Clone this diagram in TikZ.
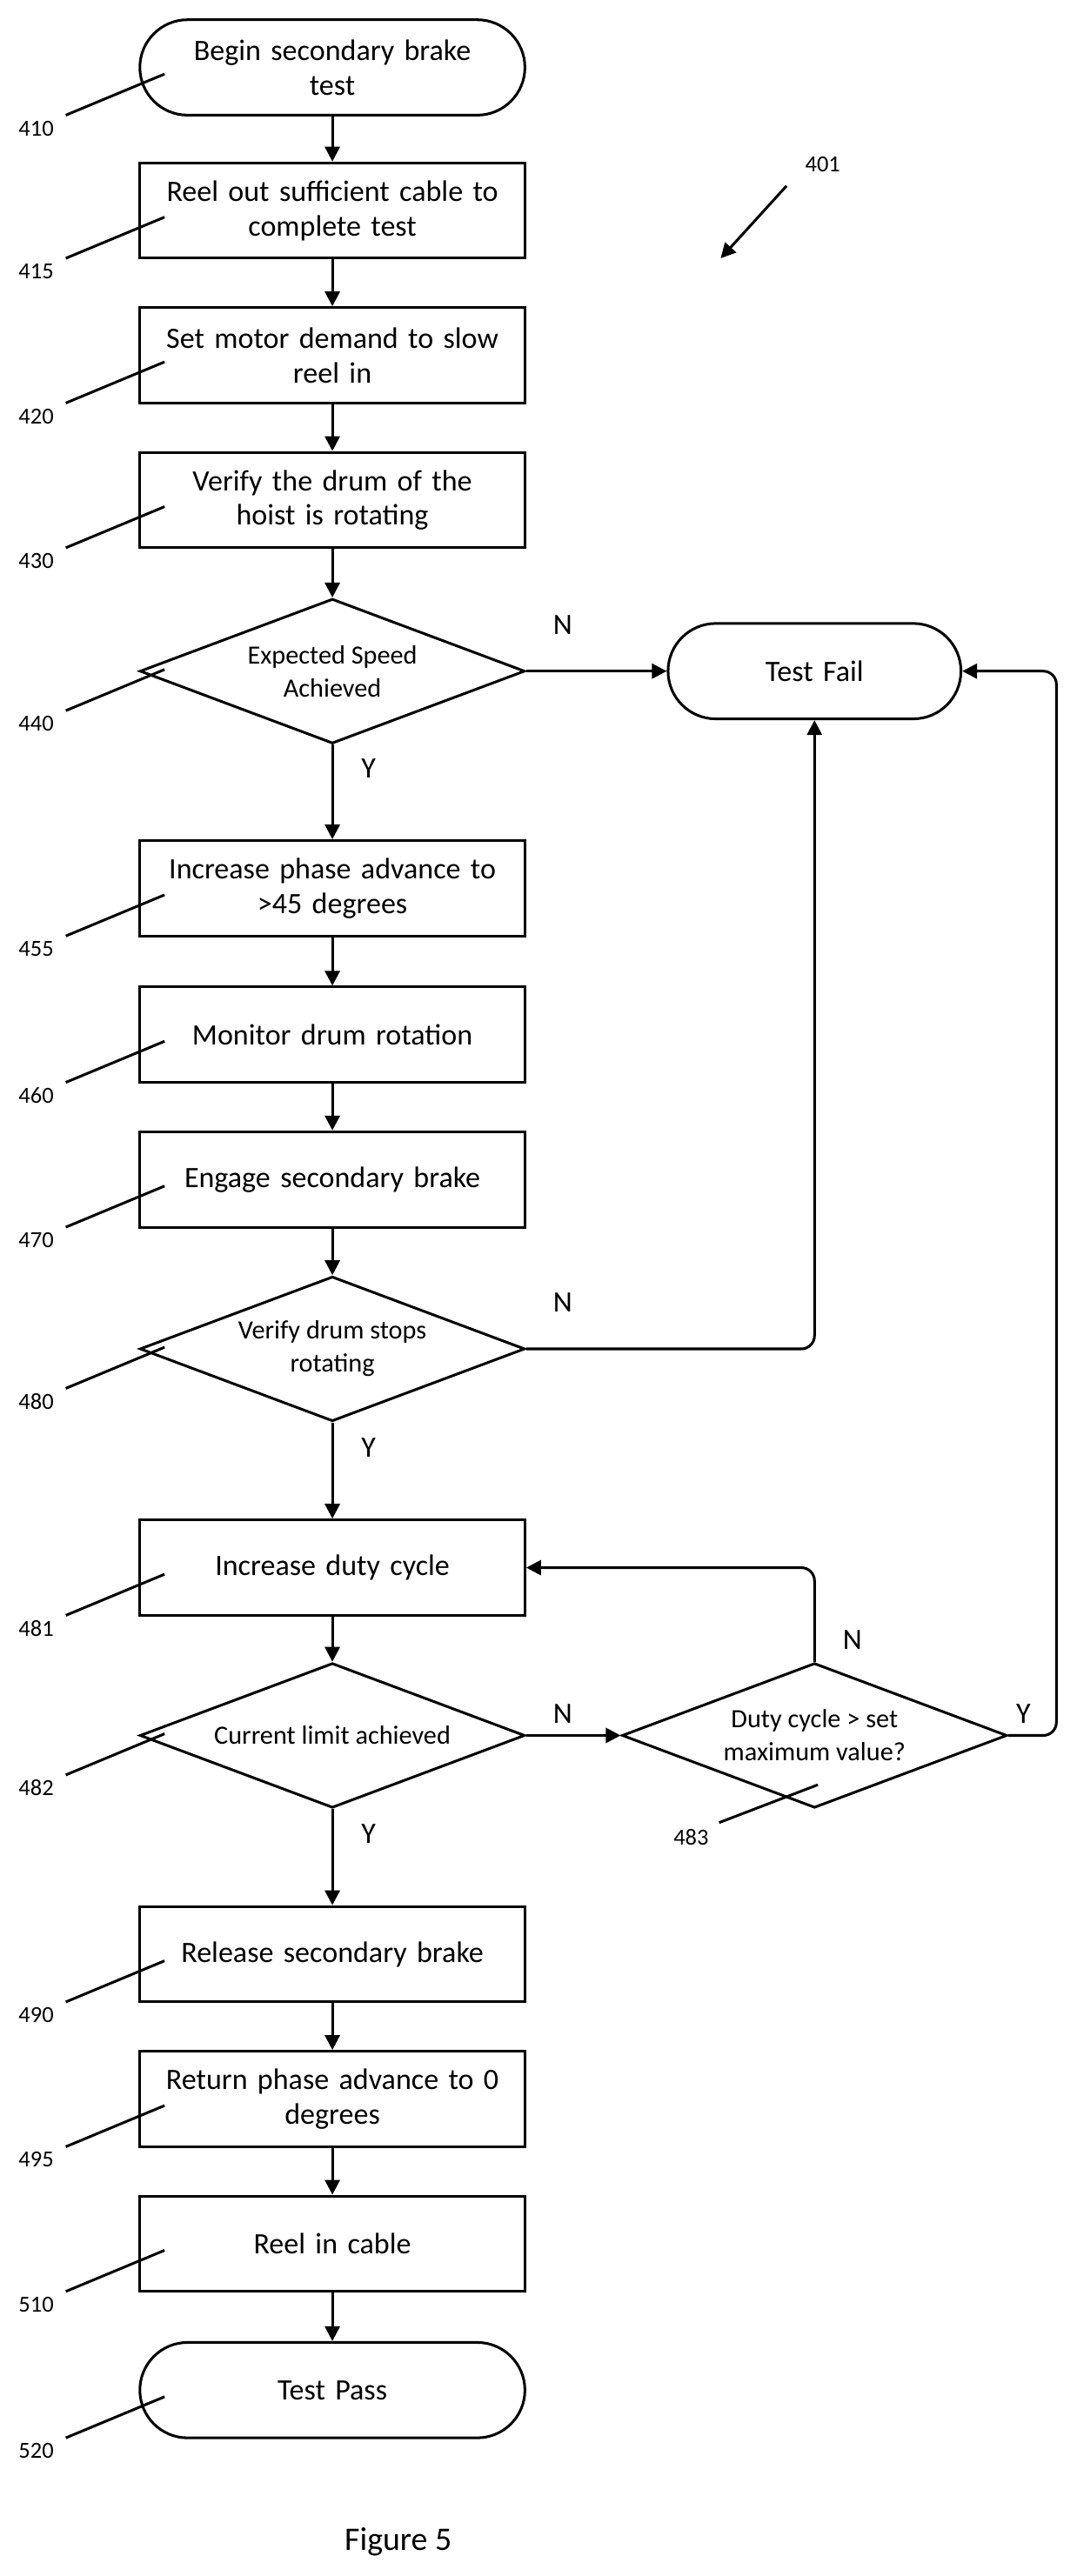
\documentclass[tikz,border=0pt]{standalone}
\usepackage{fontspec}
\setmainfont{Carlito}
\usetikzlibrary{shapes.geometric,arrows.meta}
\begin{document}
\begin{tikzpicture}[x=1pt,y=-1pt,
 box/.style={draw,line width=1.6pt,minimum width=234pt,minimum height=58pt,align=center,font=\fontsize{18}{21}\selectfont,text width=225pt},
 term/.style={box,rounded corners=29pt},
 dia/.style={draw,line width=1.6pt,diamond,minimum width=234pt,minimum height=88pt,aspect=2.66,inner sep=0pt,align=center,font=\fontsize{16}{20}\selectfont},
 arr/.style={line width=1.6pt,-{Triangle[length=9pt,width=9pt]},rounded corners=8pt},
 lead/.style={line width=1.6pt},
 lab/.style={font=\fontsize{14}{16}\selectfont},
 yn/.style={font=\fontsize{18}{20}\selectfont}]
\useasboundingbox (0,0) rectangle (654,1566);
\node[term] (b410) at (202,41) {Begin secondary brake\\test};
\node[box] (b415) at (202,128) {Reel out sufficient cable to\\complete test};
\node[box] (b420) at (202,216) {Set motor demand to slow\\reel in};
\node[box] (b430) at (202,304) {Verify the drum of the\\hoist is rotating};
\node[dia] (d440) at (202,408) {Expected Speed\\Achieved};
\node[term,minimum width=178pt,text width=170pt] (fail) at (495,408) {Test Fail};
\node[box] (b455) at (202,540) {Increase phase advance to\\>45 degrees};
\node[box] (b460) at (202,629) {Monitor drum rotation};
\node[box] (b470) at (202,717) {Engage secondary brake};
\node[dia] (d480) at (202,820) {Verify drum stops\\rotating};
\node[box] (b481) at (202,953) {Increase duty cycle};
\node[dia] (d482) at (202,1055) {Current limit achieved};
\node[dia] (d483) at (495,1055) {Duty cycle > set\\maximum value?};
\node[box] (b490) at (202,1188) {Release secondary brake};
\node[box] (b495) at (202,1276) {Return phase advance to 0\\degrees};
\node[box] (b510) at (202,1364) {Reel in cable};
\node[term] (b520) at (202,1453) {Test Pass};
\node[font=\fontsize{20}{22}\selectfont] (fig) at (242,1545) {Figure 5};

\draw[arr] (b410) -- (b415);
\draw[arr] (b415) -- (b420);
\draw[arr] (b420) -- (b430);
\draw[arr] (b430) -- (d440);
\draw[arr] (d440) -- (fail);
\draw[arr] (d440) -- (b455);
\draw[arr] (b455) -- (b460);
\draw[arr] (b460) -- (b470);
\draw[arr] (b470) -- (d480);
\draw[arr] (d480.east) -| (fail.south);
\draw[arr] (d480) -- (b481);
\draw[arr] (b481) -- (d482);
\draw[arr] (d482) -- (d483);
\draw[arr] (d483.north) |- (b481.east);
\draw[arr] (d483.east) -- (642,1055) |- (fail.east);
\draw[arr] (d482) -- (b490);
\draw[arr] (b490) -- (b495);
\draw[arr] (b495) -- (b510);
\draw[arr] (b510) -- (b520);

\node[yn] at (342,380) {N};
\node[yn] at (224,467) {Y};
\node[yn] at (342,792) {N};
\node[yn] at (224,880) {Y};
\node[yn] at (342,1042) {N};
\node[yn] at (518,997) {N};
\node[yn] at (622,1042) {Y};
\node[yn] at (224,1115) {Y};

\foreach \n/\yb in {410/70,415/157,420/245,430/333,455/569,460/658,470/746,481/982,490/1217,495/1305,510/1393,520/1482}{
 \node[lab] (l\n) at (22,\yb+8) {\n};
 \draw[lead] (40,\yb) -- (100,\yb-25);
}
\foreach \n/\yb in {440/432,480/844,482/1079}{
 \node[lab] (l\n) at (22,\yb+8) {\n};
 \draw[lead] (40,\yb) -- (100,\yb-25);
}
\node[lab] (l483) at (420,1117) {483};
\draw[lead] (437,1108) -- (497,1085);
\node[lab] (l401) at (500,100) {401};
\draw[arr] (478,113) -- (438,157);
\end{tikzpicture}
\end{document}
